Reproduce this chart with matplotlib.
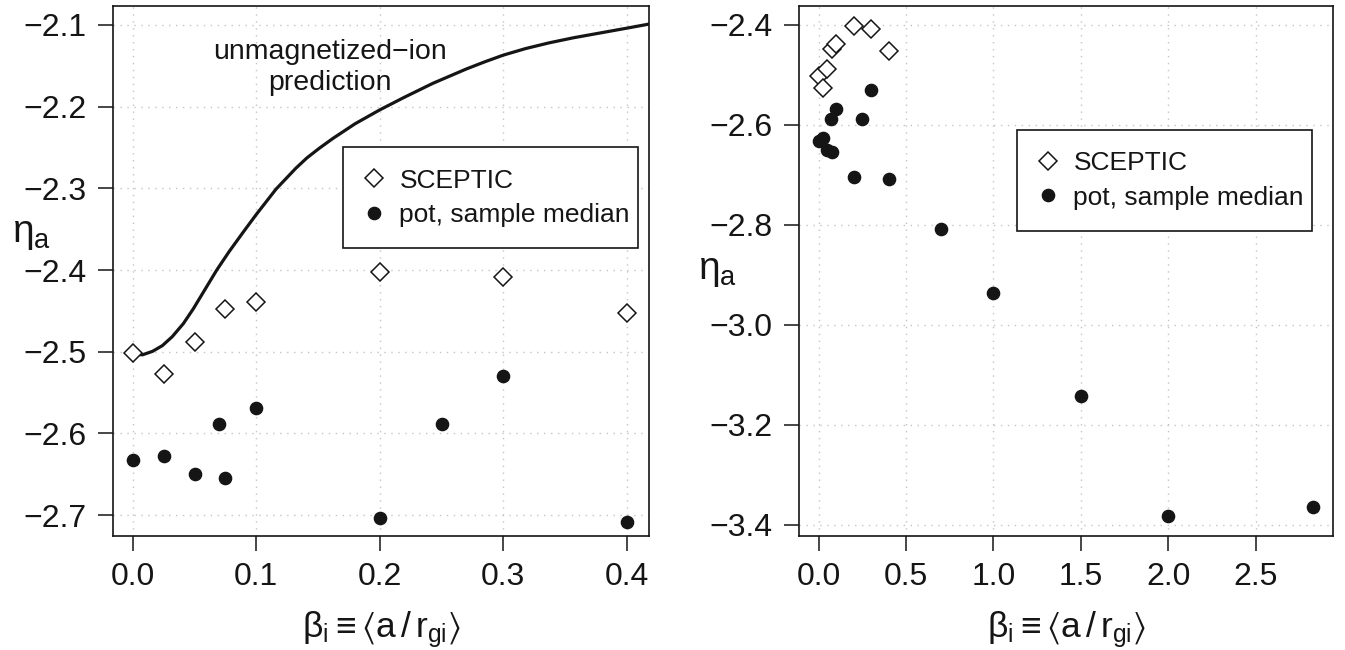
import matplotlib
matplotlib.use("Agg")
import matplotlib.pyplot as plt
from matplotlib.lines import Line2D
from matplotlib.ticker import FuncFormatter

plt.rcParams['font.family'] = ['Liberation Sans', 'DejaVu Sans']
plt.rcParams['mathtext.fontset'] = 'custom'
plt.rcParams['mathtext.rm'] = 'Liberation Sans'
plt.rcParams['mathtext.it'] = 'Liberation Sans:italic'
plt.rcParams['mathtext.fallback'] = 'stixsans'

# SCEPTIC results
beta_sceptic = [0.0, 0.025, 0.05, 0.075, 0.1, 0.2, 0.3, 0.4]
eta_sceptic = [-2.502, -2.527, -2.488, -2.448, -2.439, -2.402, -2.409, -2.452]

# pot, sample median
beta_pot = [0.0, 0.025, 0.05, 0.07, 0.075, 0.1, 0.2, 0.25, 0.3, 0.4, 0.7, 1.0, 1.5, 2.0, 2.83]
eta_pot = [-2.633, -2.627, -2.650, -2.589, -2.655, -2.569, -2.704, -2.588, -2.530, -2.708,
           -2.808, -2.937, -3.143, -3.383, -3.364]

# unmagnetized-ion prediction
beta_curve = [0.000, 0.008, 0.016, 0.024, 0.032, 0.041, 0.049, 0.057, 0.068, 0.078,
              0.089, 0.100, 0.116, 0.132, 0.141, 0.151, 0.162, 0.180, 0.200, 0.220,
              0.243, 0.270, 0.285, 0.300, 0.318, 0.337, 0.357, 0.378, 0.400, 0.418]
eta_curve = [-2.5030, -2.5037, -2.4995, -2.4925, -2.4815, -2.4655, -2.4475, -2.4275, -2.4000,
             -2.3775, -2.3545, -2.3320, -2.3010, -2.2755, -2.2628, -2.2510, -2.2390, -2.2210,
             -2.2040, -2.1885, -2.1715, -2.1540, -2.1452, -2.1370, -2.1290, -2.1220, -2.1157,
             -2.1100, -2.1040, -2.0990]

left_xticks = [0.0, 0.1, 0.2, 0.3, 0.4]
left_yticks = [-2.7, -2.6, -2.5, -2.4, -2.3, -2.2, -2.1]
right_xticks = [0.0, 0.5, 1.0, 1.5, 2.0, 2.5]
right_yticks = [-3.4, -3.2, -3.0, -2.8, -2.6, -2.4]

ink = '#151515'
fmt = FuncFormatter(lambda v, p: f"{v:.1f}".replace('-', '\u2212'))

fig = plt.figure(figsize=(13.45, 6.5), dpi=100)
bottom = 1 - 536 / 650
height = 530.3 / 650
ax1 = fig.add_axes([113 / 1345, bottom, 536 / 1345, height])
ax2 = fig.add_axes([799 / 1345, bottom, 534 / 1345, height])


def style(ax, xt, yt, ylab_y):
    ax.set_xticks(xt)
    ax.set_yticks(yt)
    ax.xaxis.set_major_formatter(fmt)
    ax.yaxis.set_major_formatter(fmt)
    ax.grid(True, color='#c4c4c4', linestyle=(0, (1, 4)), lw=1.0)
    ax.set_axisbelow(True)
    ax.tick_params(direction='out', length=10.8, width=1.1, pad=8, labelsize=23,
                   color=ink, labelcolor=ink)
    for s in ax.spines.values():
        s.set_color(ink)
        s.set_linewidth(1.2)
    ax.set_xlabel(r'$\mathrm{β_i \equiv \langle a\,/\,r_{gi}\rangle}$', fontsize=25.5, color=ink)
    ax.xaxis.set_label_coords(0.5, -0.215)
    ax.xaxis.label.set_va('bottom')
    ax.set_ylabel(r'$\mathrm{η_a}$', fontsize=28, color=ink, rotation=0)
    ax.yaxis.set_label_coords(-0.152, ylab_y)
    ax.yaxis.label.set_va('center')
    ax.yaxis.label.set_ha('center')


def add_legend(ax, box):
    handles = [
        Line2D([], [], marker='D', ls='none', mfc='white', mec=ink, ms=9.3, mew=1.1),
        Line2D([], [], marker='o', ls='none', mfc=ink, mec=ink, ms=8.8),
    ]
    leg = ax.legend(handles, ['SCEPTIC', 'pot, sample median'], loc='upper left',
                    bbox_to_anchor=box, mode='expand', borderaxespad=0, fontsize=19,
                    fancybox=False, framealpha=1, edgecolor=ink, borderpad=0.8,
                    labelspacing=0.4, handlelength=0.8, handletextpad=0.55)
    leg.get_frame().set_linewidth(1.2)
    for t in leg.get_texts():
        t.set_color(ink)


# left panel
ax1.plot(beta_curve, eta_curve, color=ink, lw=2.3, solid_joinstyle='round')
ax1.plot(beta_sceptic, eta_sceptic, 'D', mfc='white', mec=ink, ms=9.3, mew=1.1)
ax1.plot(beta_pot[:10], eta_pot[:10], 'o', color=ink, ms=8.8)
ax1.text(0.160, -2.1518, 'unmagnetized\u2212ion\nprediction', ha='center', va='center',
         fontsize=20.5, color=ink, linespacing=1.25)
ax1.set_xlim(-0.016, 0.418)
ax1.set_ylim(-2.7255, -2.0765)
style(ax1, left_xticks, left_yticks, 0.57)
add_legend(ax1, (0.4286, 0.5478, 0.5506, 0.1849))

# right panel
ax2.plot(beta_sceptic, eta_sceptic, 'D', mfc='white', mec=ink, ms=9.3, mew=1.1)
ax2.plot(beta_pot, eta_pot, 'o', color=ink, ms=8.8)
ax2.set_xlim(-0.113, 2.943)
ax2.set_ylim(-3.4223, -2.3623)
style(ax2, right_xticks, right_yticks, 0.5)
add_legend(ax2, (0.4077, 0.5816, 0.5537, 0.184))

fig.savefig('out.png', dpi=100)
